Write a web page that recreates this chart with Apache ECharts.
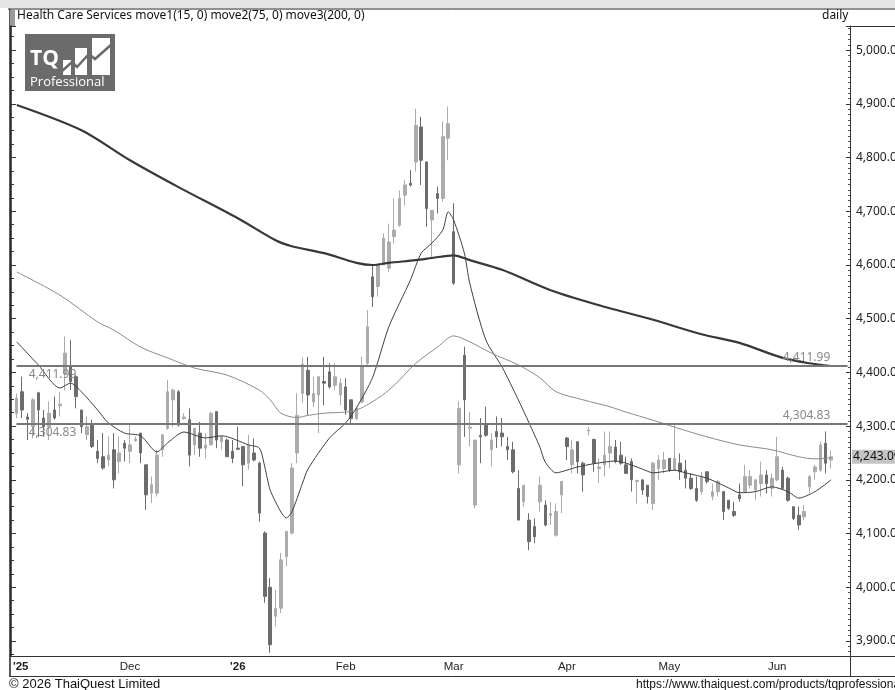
<!DOCTYPE html>
<html>
<head>
<meta charset="utf-8">
<script src="https://cdn.jsdelivr.net/npm/echarts@6.0.0/dist/echarts.min.js"></script>
<style>
  html, body { margin: 0; padding: 0; background: #fff; }
  #chart { width: 895px; height: 690px; }
</style>
</head>
<body>
<div id="chart"></div>
<script>
// month ticks on the x axis (index of first bar of each month)
const monthStarts = [0, 21, 41, 61, 81, 102, 121, 141];
const monthNames = ["'25", 'Dec', "'26", 'Feb', 'Mar', 'Apr', 'May', 'Jun'];
const slotCount = 155; // 152 bars + empty room on the right

// daily bars
const opens = [
  4324, 4364, 4317, 4299, 4362, 4315, 4299, 4330, 4338, 4398,
  4410, 4392, 4330, 4284, 4305, 4253, 4243, 4237, 4256, 4234,
  4268, 4253, 4273, 4287, 4228, 4175, 4175, 4256, 4296, 4349,
  4364, 4314, 4312, 4265, 4287, 4259, 4265, 4327, 4271, 4274,
  4253, 4259, 4262, 4231, 4250, 4231, 4101, 4000, 3946, 3961,
  4057, 4101, 4250, 4361, 4404, 4345, 4358, 4383, 4401, 4376,
  4358, 4373, 4349, 4314, 4345, 4417, 4578, 4560, 4600, 4594,
  4653, 4674, 4730, 4752, 4792, 4857, 4792, 4684, 4733, 4724,
  4836, 4662, 4228, 4432, 4296, 4153, 4283, 4302, 4256, 4290,
  4287, 4262, 4256, 4184, 4159, 4125, 4113, 4159, 4153, 4134,
  4097, 4172, 4278, 4228, 4271, 4231, 4291, 4275, 4221, 4228,
  4250, 4261, 4246, 4228, 4234, 4197, 4200, 4190, 4156, 4221,
  4221, 4240, 4218, 4231, 4218, 4203, 4184, 4178, 4215, 4169,
  4178, 4178, 4162, 4141, 4172, 4178, 4190, 4181, 4193, 4209,
  4184, 4200, 4218, 4203, 4150, 4134, 4131, 4187, 4215, 4218,
  4268, 4237
];
const closes = [
  4352, 4330, 4313, 4349, 4330, 4299, 4324, 4315, 4341, 4436,
  4383, 4355, 4299, 4299, 4262, 4240, 4222, 4246, 4200, 4250,
  4259, 4265, 4276, 4250, 4172, 4191, 4246, 4284, 4364, 4367,
  4302, 4317, 4246, 4296, 4259, 4265, 4324, 4274, 4281, 4243,
  4240, 4257, 4228, 4265, 4237, 4138, 3983, 3893, 3961, 4051,
  4104, 4222, 4320, 4415, 4358, 4361, 4392, 4380, 4373, 4392,
  4380, 4330, 4314, 4333, 4411, 4485, 4541, 4600, 4650, 4643,
  4665, 4724, 4749, 4749, 4860, 4795, 4705, 4702, 4724, 4839,
  4863, 4566, 4333, 4349, 4298, 4274, 4280, 4283, 4274, 4280,
  4280, 4256, 4215, 4125, 4190, 4085, 4094, 4190, 4116, 4137,
  4141, 4197, 4262, 4256, 4234, 4209, 4293, 4231, 4224, 4246,
  4262, 4234, 4231, 4212, 4200, 4199, 4181, 4169, 4231, 4237,
  4237, 4218, 4240, 4215, 4203, 4184, 4162, 4206, 4197, 4178,
  4197, 4141, 4147, 4134, 4165, 4206, 4206, 4200, 4209, 4193,
  4203, 4243, 4184, 4162, 4128, 4116, 4141, 4206, 4224, 4265,
  4231, 4243.09
];
const lows = [
  4315, 4315, 4274, 4277, 4280, 4280, 4274, 4312, 4318, 4367,
  4367, 4333, 4287, 4274, 4259, 4231, 4219, 4225, 4184, 4212,
  4234, 4231, 4271, 4231, 4144, 4157, 4169, 4243, 4293, 4299,
  4299, 4312, 4225, 4246, 4243, 4240, 4265, 4259, 4256, 4243,
  4231, 4256, 4188, 4219, 4234, 4122, 3971, 3878, 3927, 3952,
  4039, 4098, 4231, 4344, 4321, 4336, 4287, 4339, 4370, 4367,
  4339, 4321, 4305, 4311, 4342, 4414, 4522, 4541, 4600, 4587,
  4640, 4671, 4711, 4746, 4774, 4749, 4671, 4615, 4696, 4718,
  4795, 4563, 4212, 4280, 4262, 4147, 4231, 4280, 4225, 4259,
  4262, 4237, 4212, 4125, 4150, 4069, 4082, 4141, 4113, 4116,
  4094, 4138, 4237, 4212, 4212, 4178, 4283, 4215, 4194, 4206,
  4221, 4231, 4228, 4212, 4178, 4156, 4172, 4156, 4144, 4200,
  4212, 4215, 4218, 4200, 4184, 4181, 4159, 4172, 4193, 4162,
  4169, 4125, 4144, 4131, 4159, 4178, 4184, 4162, 4169, 4175,
  4169, 4197, 4181, 4159, 4125, 4107, 4125, 4175, 4200, 4215,
  4212, 4221
];
const highs = [
  4361, 4392, 4324, 4352, 4364, 4330, 4346, 4355, 4364, 4467,
  4460, 4395, 4330, 4318, 4312, 4274, 4287, 4281, 4287, 4281,
  4274, 4302, 4281, 4287, 4228, 4206, 4256, 4284, 4386, 4370,
  4367, 4324, 4333, 4296, 4308, 4287, 4327, 4327, 4281, 4277,
  4274, 4299, 4262, 4284, 4277, 4234, 4104, 4017, 3995, 4064,
  4104, 4231, 4362, 4428, 4429, 4392, 4392, 4429, 4417, 4417,
  4389, 4389, 4349, 4336, 4429, 4516, 4600, 4603, 4659, 4677,
  4724, 4739, 4758, 4777, 4891, 4876, 4792, 4702, 4746, 4867,
  4895, 4715, 4346, 4448, 4327, 4274, 4315, 4336, 4287, 4318,
  4315, 4280, 4271, 4218, 4190, 4138, 4128, 4206, 4162, 4159,
  4156, 4197, 4280, 4274, 4271, 4234, 4299, 4277, 4240, 4290,
  4290, 4274, 4271, 4243, 4240, 4200, 4200, 4190, 4234, 4246,
  4252, 4240, 4304, 4249, 4237, 4212, 4206, 4215, 4215, 4193,
  4200, 4178, 4162, 4159, 4193, 4228, 4218, 4200, 4234, 4218,
  4212, 4280, 4224, 4206, 4150, 4150, 4153, 4209, 4228, 4271,
  4290, 4255
];

// moving averages as [bar index, value]
const ma15 = [
  [0, 4457], [4, 4414], [8, 4371], [10, 4380], [12, 4364], [15, 4330], [17, 4306],
  [20, 4287], [23, 4282], [26, 4252], [28, 4269], [31, 4289], [35, 4278], [38, 4282],
  [43, 4265], [45, 4259], [46, 4224], [47, 4181], [49, 4140], [50, 4129], [51, 4140],
  [53, 4194], [54, 4220], [58, 4278], [61, 4306], [63, 4334], [66, 4391], [69, 4485],
  [73, 4572], [75, 4622], [77, 4641], [79, 4665], [80, 4699], [81, 4684], [83, 4622],
  [84, 4566], [87, 4460], [90, 4410], [93, 4349], [95, 4306], [97, 4261], [98, 4233],
  [100, 4213], [102, 4218], [104, 4224], [107, 4230], [111, 4235], [113, 4231],
  [116, 4220], [118, 4213], [122, 4218], [124, 4213], [128, 4203], [132, 4185],
  [134, 4176], [137, 4178], [140, 4187], [143, 4178], [145, 4166], [148, 4178], [151, 4200]
];
const ma75 = [
  [0, 4587], [8, 4544], [15, 4494], [18, 4479], [23, 4447], [28, 4427], [33, 4408],
  [39, 4395], [45, 4367], [47, 4349], [49, 4324], [52, 4316], [54, 4320], [57, 4324],
  [63, 4330], [69, 4367], [74, 4417], [78, 4447], [81, 4468], [84, 4457], [88, 4436],
  [93, 4414], [97, 4390], [100, 4364], [105, 4349], [110, 4336], [113, 4326],
  [118, 4311], [122, 4298], [128, 4280], [134, 4265], [140, 4256], [145, 4243],
  [148, 4239], [151, 4241]
];
const ma200 = [
  [0, 4898], [12, 4851], [21, 4795], [30, 4745], [41, 4687], [48, 4646], [51, 4635],
  [57, 4622], [63, 4604], [66, 4600], [69, 4604], [74, 4609], [77, 4613], [81, 4618],
  [84, 4609], [90, 4591], [99, 4553], [108, 4525], [118, 4498], [127, 4471],
  [134, 4455], [142, 4427], [147, 4417], [151, 4412]
];

const levels = [4411.99, 4304.83];
const lastPrice = 4243.09;

const categories = [];
for (let i = 0; i < slotCount; i++) {
  let m = 0;
  while (m + 1 < monthStarts.length && monthStarts[m + 1] <= i) m++;
  categories.push(monthNames[m] + ' ' + (i - monthStarts[m] + 1));
}
const candles = opens.map((o, i) => [o, closes[i], lows[i], highs[i]]);

const fmt = v => Number(v).toLocaleString('en-US', { minimumFractionDigits: 2, maximumFractionDigits: 2 });
const isMonthStart = idx => monthStarts.indexOf(idx) >= 0;

// each level: one line labelled at its right end, one labelled at its left start
const levelLines = [];
levels.forEach(lv => {
  ['insideEndTop', 'insideStartBottom'].forEach(pos => {
    levelLines.push([
      {
        coord: [categories[0], lv],
        label: {
          position: pos,
          distance: pos === 'insideEndTop' ? [17, 2] : [12, 3],
          formatter: () => fmt(lv)
        }
      },
      { coord: [categories[slotCount - 1], lv] }
    ]);
  });
});

const chart = echarts.init(document.getElementById('chart'));
const font = 'Liberation Sans, Arial, sans-serif';

const option = {
  animation: false,
  backgroundColor: '#fff',
  textStyle: { fontFamily: font },
  grid: { left: 14, right: 45, top: 26, bottom: 34, outerBoundsMode: 'none', containLabel: false },
  xAxis: {
    type: 'category',
    data: categories,
    boundaryGap: true,
    axisLine: { lineStyle: { color: '#333', width: 1 } },
    axisTick: { alignWithLabel: true, interval: isMonthStart, length: 3, lineStyle: { color: '#333' } },
    axisLabel: {
      interval: isMonthStart,
      margin: 5,
      fontSize: 11.5,
      color: '#222',
      formatter: (v, idx) => {
        const m = monthStarts.indexOf(idx);
        if (m < 0) return '';
        const name = monthNames[m];
        if (m === 0) return '{f|' + name + '}';
        return name.charAt(0) === "'" ? '{b|' + name + '}' : name;
      },
      rich: {
        b: { fontWeight: 'bold', fontSize: 11.5, color: '#222' },
        f: { fontWeight: 'bold', fontSize: 11.5, color: '#222', padding: [0, 0, 0, 8] }
      }
    },
    splitLine: { show: false }
  },
  yAxis: [
    {
      type: 'value',
      position: 'right',
      min: 3872,
      max: 5045,
      splitNumber: 12,
      axisLine: { show: true, lineStyle: { color: '#333' } },
      axisTick: { show: true, inside: true, length: 4, lineStyle: { color: '#333' } },
      minorTick: { show: true, splitNumber: 10, length: 2, lineStyle: { color: '#555' } },
      axisLabel: {
        showMinLabel: false, showMaxLabel: false,
        margin: 6, fontSize: 12, color: '#222',
        fontFamily: '"Noto Sans", sans-serif',
        formatter: v => fmt(v)
      },
      splitLine: { show: false }
    },
    {
      type: 'value',
      position: 'left',
      offset: 3,
      min: 3872,
      max: 5045,
      splitNumber: 12,
      axisLine: { show: true, lineStyle: { color: '#222', width: 1.5 } },
      axisTick: { show: true, inside: true, length: 5, lineStyle: { color: '#333' } },
      minorTick: { show: true, splitNumber: 4, length: 3, lineStyle: { color: '#333' } },
      axisLabel: { show: false },
      splitLine: { show: false }
    }
  ],
  series: [
    {
      name: 'Health Care Services',
      type: 'candlestick',
      data: candles,
      barWidth: 3,
      itemStyle: {
        color: '#acacac', color0: '#6c6c6c',
        borderColor: '#acacac', borderColor0: '#6c6c6c', borderWidth: 1
      },
      markLine: {
        silent: true,
        symbol: 'none',
        animation: false,
        lineStyle: { color: '#777', width: 2, type: 'solid' },
        label: { color: '#888', fontSize: 12, fontFamily: '"Noto Sans", sans-serif' },
        data: levelLines.concat([
          {
            yAxis: lastPrice,
            lineStyle: { color: 'rgba(0,0,0,0)', width: 0 },
            label: {
              position: 'end', distance: 2, color: '#111', fontSize: 12,
              backgroundColor: '#c4c4c4', padding: [1, 6, 1, 1],
              formatter: () => fmt(lastPrice)
            }
          }
        ])
      }
    },
    {
      name: 'move1', type: 'line', data: ma15, symbol: 'none', smooth: 0.25,
      lineStyle: { color: '#404040', width: 1 }, z: 3
    },
    {
      name: 'move2', type: 'line', data: ma75, symbol: 'none', smooth: 0.3,
      lineStyle: { color: '#8c8c8c', width: 1 }, z: 3
    },
    {
      name: 'move3', type: 'line', data: ma200, symbol: 'none', smooth: 0.3,
      lineStyle: { color: '#383838', width: 2.2 }, z: 3
    }
  ],
  graphic: [
    { type: 'rect', shape: { x: 0, y: 0, width: 895, height: 8 }, style: { fill: '#e4e4e4' }, silent: true },
    { type: 'line', shape: { x1: 8, y1: 9, x2: 895, y2: 9 }, style: { stroke: '#222', lineWidth: 1 }, silent: true },
    { type: 'line', shape: { x1: 10, y1: 9, x2: 10, y2: 677 }, style: { stroke: '#222', lineWidth: 1.5 }, silent: true },
    { type: 'rect', shape: { x: 10, y: 10, width: 5, height: 16 }, style: { fill: '#9a9a9a' }, silent: true },
    { type: 'line', shape: { x1: 850, y1: 26.5, x2: 895, y2: 26.5 }, style: { stroke: '#333', lineWidth: 1 }, silent: true },
    { type: 'line', shape: { x1: 10, y1: 656.5, x2: 895, y2: 656.5 }, style: { stroke: '#333', lineWidth: 1 }, silent: true },
    { type: 'line', shape: { x1: 10, y1: 676.5, x2: 895, y2: 676.5 }, style: { stroke: '#333', lineWidth: 1 }, silent: true },
    { type: 'line', shape: { x1: 850.5, y1: 656, x2: 850.5, y2: 677 }, style: { stroke: '#333', lineWidth: 1 }, silent: true },
    {
      type: 'text', left: 17, top: 10, silent: true,
      style: { text: 'Health Care Services move1(15, 0) move2(75, 0) move3(200, 0)', fill: '#111', font: '12px "Noto Sans", sans-serif' }
    },
    {
      type: 'text', left: 822, top: 10, silent: true,
      style: { text: 'daily', fill: '#111', font: '12px "Noto Sans", sans-serif' }
    },
    {
      type: 'group', left: 25, top: 34, silent: true,
      children: [
        { type: 'rect', shape: { x: 0, y: 0, width: 90, height: 57 }, style: { fill: '#6b6b6b' } },
        { type: 'text', style: { x: 5, y: 15, text: 'TQ', fill: '#fff', font: 'bold 21px "Open Sans", sans-serif' } },
        { type: 'rect', shape: { x: 38, y: 26, width: 8, height: 15 }, style: { fill: '#fff' } },
        { type: 'rect', shape: { x: 50, y: 14, width: 12, height: 27 }, style: { fill: '#fff' } },
        { type: 'rect', shape: { x: 67, y: 4, width: 18, height: 37 }, style: { fill: '#fff' } },
        { type: 'polyline', shape: { points: [[36, 38], [47, 28], [52, 33], [64, 20], [70, 25], [87, 10]] }, style: { stroke: '#6b6b6b', lineWidth: 2.5, fill: null } },
        { type: 'text', style: { x: 5, y: 42, text: 'Professional', fill: '#fff', font: '13px "Open Sans", sans-serif' } }
      ]
    },
    {
      type: 'text', left: 9, top: 678, silent: true,
      style: { text: '© 2026 ThaiQuest Limited', fill: '#111', font: '13px "Liberation Sans", sans-serif' }
    },
    {
      type: 'text', left: 636, top: 679, silent: true,
      style: { text: 'https://www.thaiquest.com/products/tqprofessional', fill: '#111', font: '12px "Liberation Sans", sans-serif' }
    }
  ]
};
chart.setOption(option);
window.addEventListener('resize', chart.resize);
</script>
</body>
</html>
